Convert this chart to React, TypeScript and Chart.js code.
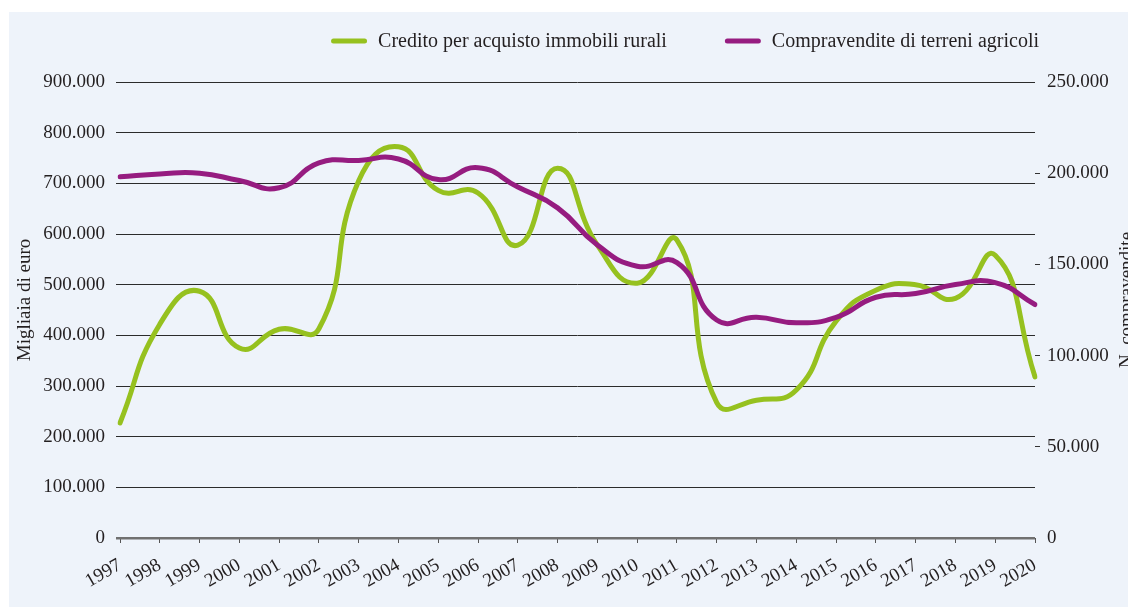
import React, { useEffect, useRef } from 'react';
import { Chart, registerables } from 'chart.js';

Chart.register(...registerables);

const years = ['1997', '1998', '1999', '2000', '2001', '2002', '2003', '2004', '2005', '2006', '2007', '2008', '2009', '2010', '2011', '2012', '2013', '2014', '2015', '2016', '2017', '2018', '2019', '2020'];

// Migliaia di euro (left axis)
const creditoValues = [227000, 422000, 487000, 375000, 412000, 413000, 705000, 772000, 686000, 681000, 578000, 730000, 578000, 503000, 588000, 267000, 272000, 292000, 428000, 489000, 500000, 473000, 558000, 318000];

// N. compravendite (right axis)
const compravenditeValues = [198000, 199600, 200000, 196000, 192000, 205600, 207000, 207800, 196500, 203000, 192400, 181000, 160600, 149000, 151000, 119500, 121000, 118000, 121000, 132000, 134000, 139000, 140000, 128000];

const creditoLabel = 'Credito per acquisto immobili rurali';
const compravenditeLabel = 'Compravendite di terreni agricoli';
const leftTitle = 'Migliaia di euro';
const rightTitle = 'N. compravendite';

const leftMax = 900000;
const leftStep = 100000;
const rightMax = 250000;
const rightStep = 50000;

const GREEN = '#96C11F';
const PURPLE = '#961C80';
const TEXT = '#231F20';
const FONT = '"Liberation Serif", "Times New Roman", serif';

function fmt(v: number): string {
  return Math.round(v).toString().replace(/\B(?=(\d{3})+(?!\d))/g, '.');
}

const textPlugin = {
  id: 'customTexts',
  afterDraw(chart: any) {
    const { ctx, chartArea } = chart;
    const cy = (chartArea.top + chartArea.bottom) / 2 - 10;
    ctx.save();
    ctx.fillStyle = TEXT;
    ctx.font = `19px ${FONT}`;
    ctx.textAlign = 'center';
    ctx.textBaseline = 'alphabetic';
    ctx.translate(30, cy);
    ctx.rotate(-Math.PI / 2);
    ctx.fillText(leftTitle, 0, 0);
    ctx.restore();

    ctx.save();
    ctx.fillStyle = TEXT;
    ctx.font = `19px ${FONT}`;
    ctx.textAlign = 'center';
    ctx.textBaseline = 'alphabetic';
    ctx.translate(chart.width + 4, cy);
    ctx.rotate(-Math.PI / 2);
    ctx.fillText(rightTitle, 0, 0);
    ctx.restore();

    // legend
    const items = [
      { label: creditoLabel, color: GREEN },
      { label: compravenditeLabel, color: PURPLE },
    ];
    ctx.save();
    ctx.font = `20px ${FONT}`;
    ctx.textBaseline = 'middle';
    ctx.textAlign = 'left';
    const y = 42;
    let x = chartArea.right + 4;
    for (let i = items.length - 1; i >= 0; i--) {
      const it = items[i];
      const w = ctx.measureText(it.label).width;
      x -= w;
      ctx.fillStyle = TEXT;
      ctx.fillText(it.label, x, y);
      x -= 11;
      ctx.strokeStyle = it.color;
      ctx.lineWidth = 5;
      ctx.lineCap = 'round';
      ctx.beginPath();
      ctx.moveTo(x - 36 + 2.5, y - 1);
      ctx.lineTo(x - 2.5, y - 1);
      ctx.stroke();
      x -= 36;
      x -= 58;
    }
    ctx.restore();
  },
};

export default function App() {
  const canvasRef = useRef<HTMLCanvasElement | null>(null);

  useEffect(() => {
    if (!canvasRef.current) return;
    const chart = new Chart(canvasRef.current, {
      type: 'line',
      data: {
        labels: years,
        datasets: [
          {
            label: creditoLabel,
            data: creditoValues,
            borderColor: GREEN,
            backgroundColor: GREEN,
            borderWidth: 5,
            pointRadius: 0,
            tension: 0.5,
            borderCapStyle: 'round',
            borderJoinStyle: 'round',
            yAxisID: 'y',
            order: 1,
          },
          {
            label: compravenditeLabel,
            data: compravenditeValues,
            borderColor: PURPLE,
            backgroundColor: PURPLE,
            borderWidth: 5,
            pointRadius: 0,
            tension: 0.5,
            borderCapStyle: 'round',
            borderJoinStyle: 'round',
            yAxisID: 'y1',
            order: 0,
          },
        ],
      },
      options: {
        responsive: false,
        animation: false,
        layout: { padding: { top: 82, left: 0, right: 0, bottom: 0 } },
        plugins: {
          legend: { display: false },
          tooltip: { enabled: false },
        },
        scales: {
          x: {
            grid: {
              drawOnChartArea: false,
              drawTicks: true,
              tickLength: 5,
              color: '#555',
              lineWidth: 1,
            },
            border: { display: false },
            ticks: {
              autoSkip: false,
              minRotation: 30,
              maxRotation: 30,
              padding: 11,
              color: TEXT,
              font: { family: FONT, size: 19 },
            },
            afterFit(scale: any) {
              scale.height = 69;
            },
          },
          y: {
            position: 'left',
            min: 0,
            max: leftMax,
            grid: {
              drawTicks: true,
              tickLength: 4,
              color: (c: any) => (c.tick && c.tick.value === 0 ? '#707070' : '#2b2b2b'),
              lineWidth: (c: any) => (c.tick && c.tick.value === 0 ? 2.5 : 1),
            },
            border: { display: false },
            ticks: {
              stepSize: leftStep,
              padding: 11,
              color: TEXT,
              font: { family: FONT, size: 19 },
              callback: (v: any) => fmt(Number(v)),
            },
            afterFit(scale: any) {
              scale.width = 120;
            },
          },
          y1: {
            position: 'right',
            min: 0,
            max: rightMax,
            grid: {
              drawOnChartArea: false,
              drawTicks: true,
              tickLength: 5,
              tickColor: (c: any) =>
                c.tick && c.tick.value > 0 && c.tick.value < rightMax ? '#333333' : 'rgba(0,0,0,0)',
            },
            border: { display: false },
            ticks: {
              stepSize: rightStep,
              padding: 7,
              color: TEXT,
              font: { family: FONT, size: 19 },
              callback: (v: any) => fmt(Number(v)),
            },
            afterFit(scale: any) {
              scale.width = 93;
            },
          },
        },
      },
      plugins: [textPlugin],
    } as any);
    return () => chart.destroy();
  }, []);

  return (
    <div style={{ position: 'absolute', left: 0, top: 0, width: 1128, height: 607, background: '#ffffff', overflow: 'hidden' }}>
      <div style={{ position: 'absolute', left: 9, top: 12, right: 0, bottom: 0, background: '#EEF3FA' }} />
      <canvas ref={canvasRef} width={1128} height={607} style={{ position: 'absolute', left: 0, top: 0, width: 1128, height: 607 }} />
    </div>
  );
}
